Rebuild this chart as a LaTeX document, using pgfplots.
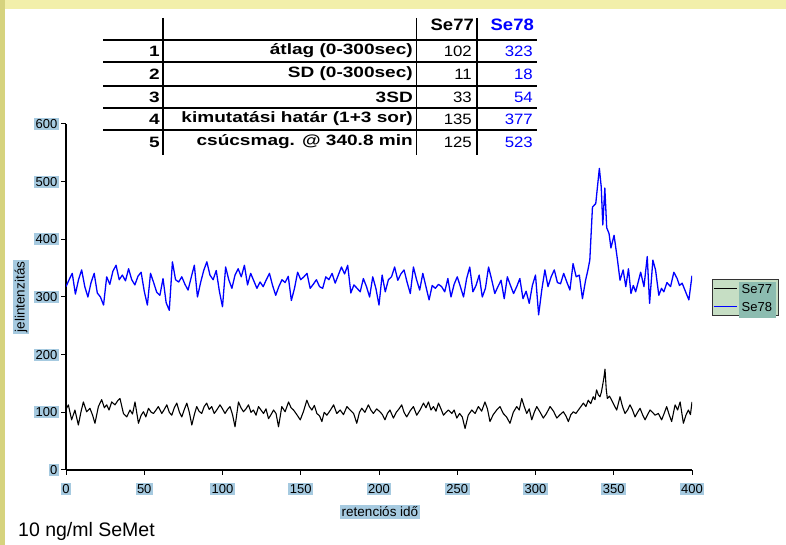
\documentclass[border=0pt]{standalone}
\usepackage{fontspec}
\setmainfont{Liberation Sans}
\usepackage{pgfplots}
\pgfplotsset{compat=1.18}
\definecolor{tickblue}{HTML}{A6CAE0}
\definecolor{bgyellow}{HTML}{F2EFAA}
\definecolor{bgleft}{HTML}{D6D37E}
\definecolor{lgreen}{HTML}{C6DEC4}
\definecolor{lteal}{HTML}{8CBCB0}
\definecolor{tblue}{HTML}{0000FF}
\newcommand{\tb}[1]{{\fontsize{15}{17}\selectfont\bfseries\scalebox{1.27}[1]{#1}}}
\newcommand{\tn}[1]{{\fontsize{15}{17}\selectfont\scalebox{1.12}[1]{#1}}}
\newcommand{\thd}[1]{{\fontsize{16.5}{18}\selectfont\bfseries\scalebox{1.12}[1]{#1}}}
\newcommand{\lgt}[1]{{\setlength{\fboxsep}{2.5pt}\colorbox{lteal}{\makebox[32pt][l]{\strut #1}}}}
\begin{document}
\begin{tikzpicture}
\path[use as bounding box] (0pt,0pt) rectangle (786pt,545pt);
\fill[bgyellow] (0pt,0pt) rectangle (786pt,545pt);
\fill[bgleft] (0pt,0pt) rectangle (5pt,545pt);
\fill[white] (5pt,0pt) rectangle (786pt,536pt);
% table
\begin{scope}[line width=1.6pt]
\foreach \yy in {505,483,459,437,415} {\draw (103pt,\yy pt) -- (537pt,\yy pt);}
\draw[line width=1.3pt] (163pt,527pt) -- (163pt,390pt);
\draw[line width=0.9pt] (416pt,527pt) -- (416pt,390pt);
\draw[line width=1.8pt] (477pt,527pt) -- (477pt,390pt);
\end{scope}
\node[anchor=east,inner sep=0pt] at (474pt,520pt) {\thd{Se77}};
\node[anchor=east,inner sep=0pt,text=tblue] at (534pt,520pt) {\thd{Se78}};
\foreach \n/\yy/\lab/\a/\b in {1/494/{átlag (0-300sec)}/102/323, 2/471/{SD (0-300sec)}/11/18, 3/448/{3SD}/33/54, 4/426/{kimutatási határ (1+3 sor)}/135/377, 5/403/{csúcsmag. @ 340.8 min}/125/523} {
  \node[anchor=east,inner sep=0pt] at (160pt,\yy pt) {\tb{\n}};
  \node[anchor=east,inner sep=0pt] at (413pt,\yy pt) {\tb{\lab}};
  \node[anchor=east,inner sep=0pt] at (472pt,\yy pt) {\tn{\a}};
  \node[anchor=east,inner sep=0pt,text=tblue] at (533pt,\yy pt) {\tn{\b}};
}
\node[anchor=west,inner sep=0pt] at (18pt,14pt) {\fontsize{19.5}{21}\selectfont 10 ng/ml SeMet};
\begin{axis}[
  at={(66pt,75pt)}, anchor=south west,
  scale only axis, width=626pt, height=346pt,
  xmin=0, xmax=400, ymin=0, ymax=600,
  xtick={0,50,...,400}, ytick={0,100,...,600},
  axis lines=left, axis line style={-, line width=1.2pt, black},
  tick align=outside, major tick length=5pt,
  tick style={line width=1pt, black},
  /pgf/number format/assume math mode=true,
  tick label style={font=\fontsize{13}{14}\selectfont, fill=tickblue, inner sep=1.5pt},
  xticklabel style={yshift=-8pt},
  yticklabel style={xshift=-2pt},
  xlabel={retenciós idő}, ylabel={jelintenzitás},
  xlabel style={at={(axis description cs:0.5016,-0.1214)}, anchor=center, fill=tickblue, inner sep=1.5pt, font=\fontsize{13.5}{14}\selectfont},
  ylabel style={at={(axis description cs:-0.0719,0.5)}, anchor=center, fill=tickblue, inner sep=1.5pt, font=\fontsize{13.5}{14}\selectfont},
  legend style={at={(1.0855,0.4986)}, anchor=center, draw=black!80, line width=1.2pt, fill=lgreen, inner sep=0pt, row sep=0pt, column sep=0pt,
    font=\fontsize{13}{14}\selectfont, cells={anchor=west, inner sep=0pt}},
  legend image code/.code={\draw[#1] (2pt,0pt) -- (25pt,0pt);},
]
\addplot[black, line width=1.1pt, line join=round] table[x=x,y=y] {
x y
0 105
1.5 113
3.6 87
5.7 104
7.9 78
9.5 100
11.1 118
13.2 101
15.3 107
17 95
18.5 81
20.7 110
22.8 122
24.5 108
26 113
27.5 104
29.2 118
31.3 113
33 120
34.5 124
36.7 98
38.8 92
40.9 104
42.5 97
44.1 118
46.3 81
48 95
49.5 101
51 92
52.7 107
54.5 100
55.9 98
57.5 104
59 110
61.2 98
62.8 105
64.4 113
66 100
67.6 95
69.2 108
70.8 116
72.5 100
74 92
75.6 105
77.2 116
78.8 100
80.4 78
82 96
83.5 110
85 102
86.7 98
88.3 110
89.9 116
91.5 105
93.1 110
94.7 98
96.3 104
98.4 113
100 106
101.6 98
103.2 105
104.8 110
106.4 96
108 75
110.2 118
111.8 108
113.4 101
115 106
116.6 113
118.2 100
119.8 104
121.4 95
123 110
124.6 104
126.2 98
127.8 106
129.4 89
131 96
132.6 104
134.2 98
135.8 75
137.9 110
140 101
142.2 118
143.8 108
145.4 104
147.5 96
149.7 87
151.8 102
153.9 121
155.5 110
157.1 104
158.7 112
160.3 98
162 94
163.5 84
165 100
166.7 95
169 104
171 113
173 98
175.2 104
177.3 96
179.5 110
181.5 104
183.8 98
185.8 81
187.5 100
189 107
191 100
193.2 113
194.8 104
196.4 98
198.5 106
200.6 101
202.2 96
203.8 87
205.4 98
207 104
209.2 90
211 100
212.8 106
214.5 113
216 100
217.7 92
220 103
222 110
224.1 95
226.2 104
228.4 116
230 108
231.6 118
233.2 104
234.8 110
236.4 102
238 116
239.6 106
241.2 95
242.8 100
244.4 104
246.5 98
248 104
249.7 90
251.5 98
253.2 92
255 72
257 95
259.3 104
261.4 98
263.5 110
265.6 102
267.7 118
269.3 106
270.9 84
273 96
275.2 104
277.3 110
279.4 98
281.5 92
283.7 81
285.8 100
288 110
289.6 104
291.2 124
292.8 110
294.4 98
296 106
297.6 87
299.2 100
300.8 110
303 100
305 90
307 98
309.3 110
311.5 102
313.6 90
315.7 96
317.8 101
319.4 94
321 84
322.6 96
324.2 101
325.8 98
327.4 104
329 110
330.6 116
332.2 110
333.7 121
335.3 115
336.9 127
338 122
339 139
340.2 130
341.2 127
342.1 135
342.9 147
343.7 160
344.4 175
345.2 140
345.9 124
347.3 128
348.7 121
350.3 112
351.9 104
353 116
354 127
355.6 110
357.2 98
358.8 104
360.4 113
362 104
363.6 92
365.2 100
366.8 107
368.4 96
370 87
371.6 96
373.2 104
374.8 100
376.4 95
378.5 98
380.6 87
382.2 98
383.8 110
385.4 96
387 84
389.2 113
390.8 104
392.4 118
394.5 81
396.1 95
397.7 104
399 96
400 118
};
\addlegendentry{\lgt{Se77}}
\addplot[tblue, line width=1.3pt, line join=round] table[x=x,y=y] {
x y
0 318
2 330
4 341
6 305
8 330
10 347
12 318
14 300
16 325
18 341
20 307
22 300
24 286
26 335
28 322
30 345
32 355
34 330
36 338
38 328
40 349
42 330
44 321
46 336
48 343
50 310
52 286
54 341
56 325
58 308
60 303
62 332
64 290
66 277
68 361
70 330
72 326
74 335
76 322
78 312
80 334
82 355
84 300
86 325
88 346
90 361
92 338
94 330
96 346
98 310
100 283
102 352
104 330
106 315
108 338
110 349
112 335
114 355
116 321
118 341
120 328
122 315
124 326
126 318
128 330
130 341
132 320
134 303
136 318
138 330
140 325
142 336
144 294
146 315
148 343
150 330
152 335
154 341
156 315
158 322
160 330
162 318
164 315
166 335
168 330
170 341
172 324
174 338
176 352
178 340
180 355
182 307
184 321
186 315
188 309
190 332
192 318
194 300
196 335
198 315
200 286
202 338
204 309
206 330
208 335
210 352
212 329
214 340
216 347
218 325
220 306
222 352
224 330
226 312
228 341
230 318
232 295
234 320
236 315
238 322
240 318
242 309
244 332
246 300
248 322
250 335
252 318
254 300
256 332
258 352
260 309
262 320
264 338
266 300
268 315
270 352
272 330
274 306
276 318
278 329
280 297
282 335
284 320
286 306
288 318
290 332
292 297
294 310
296 289
298 320
300 338
302 269
304 312
306 347
308 318
310 335
312 347
314 325
316 323
318 341
320 326
322 312
324 358
326 335
328 338
330 297
332 329
333.5 347
334.7 364
336.4 456
338.5 462
340.8 523
342 491
343 425
344.3 489
345.5 420
347 410
348.2 385
350.2 407
352.4 364
354 329
356 347
357.7 318
359.4 349
361 306
362.5 320
364 309
366 330
367.2 343
369.3 318
371.4 370
372.9 289
375 364
376.7 347
378.8 303
380.5 315
382 309
384 325
386.3 318
388.4 343
390.5 332
392 320
393.7 324
395.9 309
398 295
400 337
};
\addlegendentry{\lgt{Se78}}
\end{axis}
\end{tikzpicture}
\end{document}
